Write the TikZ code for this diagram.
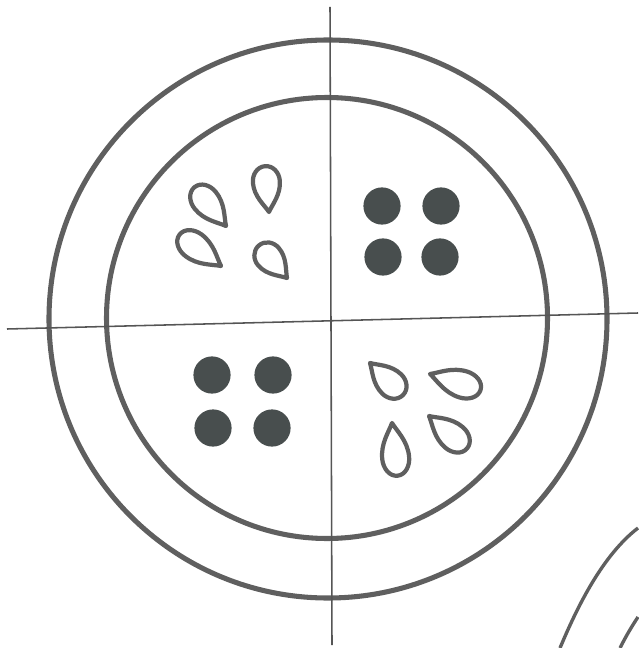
\documentclass[tikz,border=0pt]{standalone}
\usepackage{xcolor}
\usepackage{tikz}
\usetikzlibrary{positioning}

\definecolor{rindgray}{RGB}{95,95,95}
\definecolor{pipgray}{RGB}{72,78,78}
\definecolor{axisgray}{RGB}{85,85,85}

\begin{document}
\begin{tikzpicture}[
    x=0.025cm, y=-0.025cm,
    rind/.style={draw=rindgray, line width=3.6pt},
    edgerind/.style={draw=rindgray, line width=2.4pt},
    axis/.style={draw=axisgray, line width=1.1pt},
    pip/.style={circle, fill=pipgray, minimum size=0.93cm, inner sep=0pt},
    seedline/.style={draw=rindgray, line width=3pt, line join=round},
    pics/seed/.style={code={
        \draw[seedline] (0,0) .. controls (8,4) and (18,13.5) .. (33,13.5)
            .. controls (42,13.5) and (50,8) .. (50,0)
            .. controls (50,-8) and (42,-13.5) .. (33,-13.5)
            .. controls (18,-13.5) and (8,-4) .. cycle;
    }}
]
\useasboundingbox (0,0) rectangle (638,648);

% centres
\coordinate (outer) at (328,319);
\coordinate (inner) at (327,318);

% rind
\draw[rind] (outer) circle [radius=279];
\draw[rind] (inner) circle [radius=220.5];

% cross
\coordinate (top) at (330,7);
\coordinate (bottom) at (332,645);
\coordinate (left) at (7,329);
\coordinate (right) at (638,313);
\draw[axis] (top) -- (bottom);
\draw[axis] (left) -- (right);

% filled pips
\node[pip] (ur1) at (382,206) {};
\node[pip] (ur2) at (441,206) {};
\node[pip] (ur3) at (383,257) {};
\node[pip] (ur4) at (440,257) {};
\node[pip] (ll1) at (212,375) {};
\node[pip] (ll2) at (273,375) {};
\node[pip] (ll3) at (213,428) {};
\node[pip] (ll4) at (272,428) {};

% hollow seeds, upper left
\pic[rotate=129, xscale=1.0] at (226,226) {seed};
\pic[rotate=95, xscale=0.92] at (269,212) {seed};
\pic[rotate=143, xscale=1.04] at (221,266) {seed};
\pic[rotate=131, xscale=0.86] at (287,278) {seed};

% hollow seeds, lower right
\pic[rotate=-44, xscale=0.92] at (370,363) {seed};
\pic[rotate=-17.5, xscale=1.06] at (430,374) {seed};
\pic[rotate=-40.5, xscale=1.0] at (429,416) {seed};
\pic[rotate=-84, xscale=1.06] at (392,423) {seed};

% next figure, cut off
\draw[edgerind] (560,648) .. controls (578,605) and (603,555) .. (638,528);
\draw[edgerind] (620,648) .. controls (626,636) and (632,626) .. (638,617);

\end{tikzpicture}
\end{document}
